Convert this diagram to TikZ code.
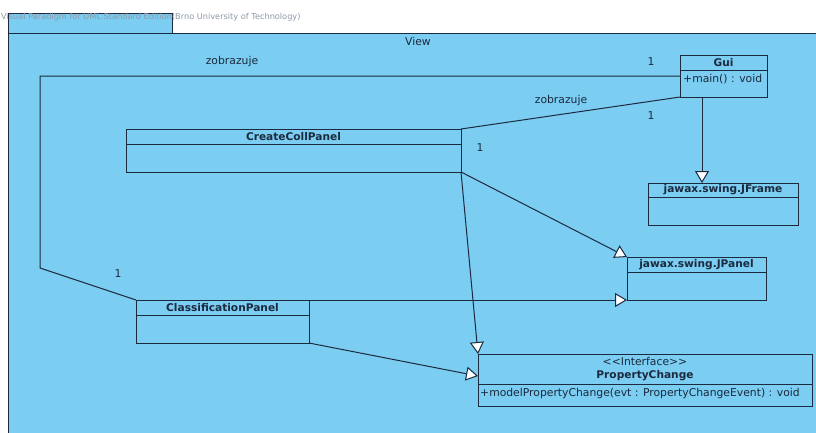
\documentclass[tikz,border=0pt]{standalone}
\usepackage{fontspec}
\setmainfont{DejaVu Sans}
\usetikzlibrary{arrows.meta}
\definecolor{pkgfill}{HTML}{7BCDF2}
\definecolor{ink}{HTML}{1B2A3E}
\definecolor{mark}{HTML}{8E9AA8}
\tikzset{
  x=1pt, y=-1pt,
  every node/.style={text=ink, font=\fontsize{10.8}{12}\selectfont},
  border/.style={draw=ink, line width=1pt},
  link/.style={draw=ink, line width=1pt},
  gen/.style={link, -{Triangle[open, fill=white, length=12pt, width=14pt]}},
  cname/.style={font=\fontsize{10.6}{12}\selectfont\bfseries},
  lbl/.style={font=\fontsize{10.8}{12}\selectfont},
}
\newcommand{\umlclass}[6]{% name, x1, y1, x2, ydiv, y2
  \path[fill=pkgfill, border] (#2,#3) rectangle (#4,#6);
  \draw[border] (#2,#5) -- (#4,#5);
}
\begin{document}
\begin{tikzpicture}
\useasboundingbox (0,0) rectangle (816,432);
\fill[white] (0,0) rectangle (816,432);
% package frame with tab
\path[fill=pkgfill, border] (8,13) rectangle (172,33);
\path[fill=pkgfill, border] (8,33) rectangle (830,440);
\node[anchor=west, text=mark, font=\fontsize{8.2}{9}\selectfont, inner sep=0] (wm) at (1,17) {Visual Paradigm for UML Standard Edition(Brno University of Technology)};
\node (view) at (418,41) {View};

% classes
\umlclass{Gui}{680}{55}{767}{70}{97}
\node[cname] (guin) at (723.5,62.5) {Gui};
\node[lbl, anchor=west, inner sep=0] (guim) at (683,79) {+main() : void};

\umlclass{JFrame}{648}{183}{798}{197}{225}
\node[cname] (jframe) at (723,190) {jawax.swing.JFrame};

\umlclass{CCP}{126}{129}{461}{144}{172}
\node[cname] (ccp) at (293.5,136.5) {CreateCollPanel};

\umlclass{JPanel}{627}{257}{766}{272}{300}
\node[cname] (jpanel) at (696.5,264.5) {jawax.swing.JPanel};

\umlclass{CP}{136}{300}{309}{315}{343}
\node[cname] (cp) at (222.5,307.5) {ClassificationPanel};

\umlclass{PC}{478}{354}{812}{384}{406}
\node[lbl] (pcst) at (645,361.5) {<{}<Interface>{}>};
\node[cname] (pc) at (645,376) {PropertyChange};
\node[lbl, anchor=west, inner sep=0] (pcm) at (480,394) {+modelPropertyChange(evt : PropertyChangeEvent) : void};

% anchor points on the class borders
\coordinate (guiL) at (680,76);
\coordinate (guiBL) at (680,97);
\coordinate (guiB) at (702,97);
\coordinate (jframeT) at (702,183);
\coordinate (ccpTR) at (461,129);
\coordinate (ccpBR) at (461,172);
\coordinate (jpanelTL) at (627,257);
\coordinate (jpanelBL) at (627,300);
\coordinate (cpTL) at (136,300);
\coordinate (cpTR) at (309,300);
\coordinate (cpBR) at (309,343);
\coordinate (pcTL) at (478,354);
\coordinate (pcL) at (478,376);
\coordinate (bendA) at (40,76);
\coordinate (bendB) at (40,268);

% associations
\draw[link] (guiL) -- (bendA) -- (bendB) -- (cpTL);
\draw[link] (guiBL) -- (ccpTR);
\node[lbl] (a1) at (232,62) {zobrazuje};
\node[lbl] (a1g) at (651,62) {1};
\node[lbl] (a1c) at (118,274) {1};
\node[lbl] (a2) at (561,101) {zobrazuje};
\node[lbl] (a2g) at (651,116) {1};
\node[lbl] (a2c) at (480,148) {1};

% generalisations / realisations
\draw[gen] (guiB) -- (jframeT);
\draw[gen] (ccpBR) -- (jpanelTL);
\draw[gen] (ccpBR) -- (pcTL);
\draw[gen] (cpTR) -- (jpanelBL);
\draw[gen] (cpBR) -- (pcL);
\end{tikzpicture}
\end{document}
